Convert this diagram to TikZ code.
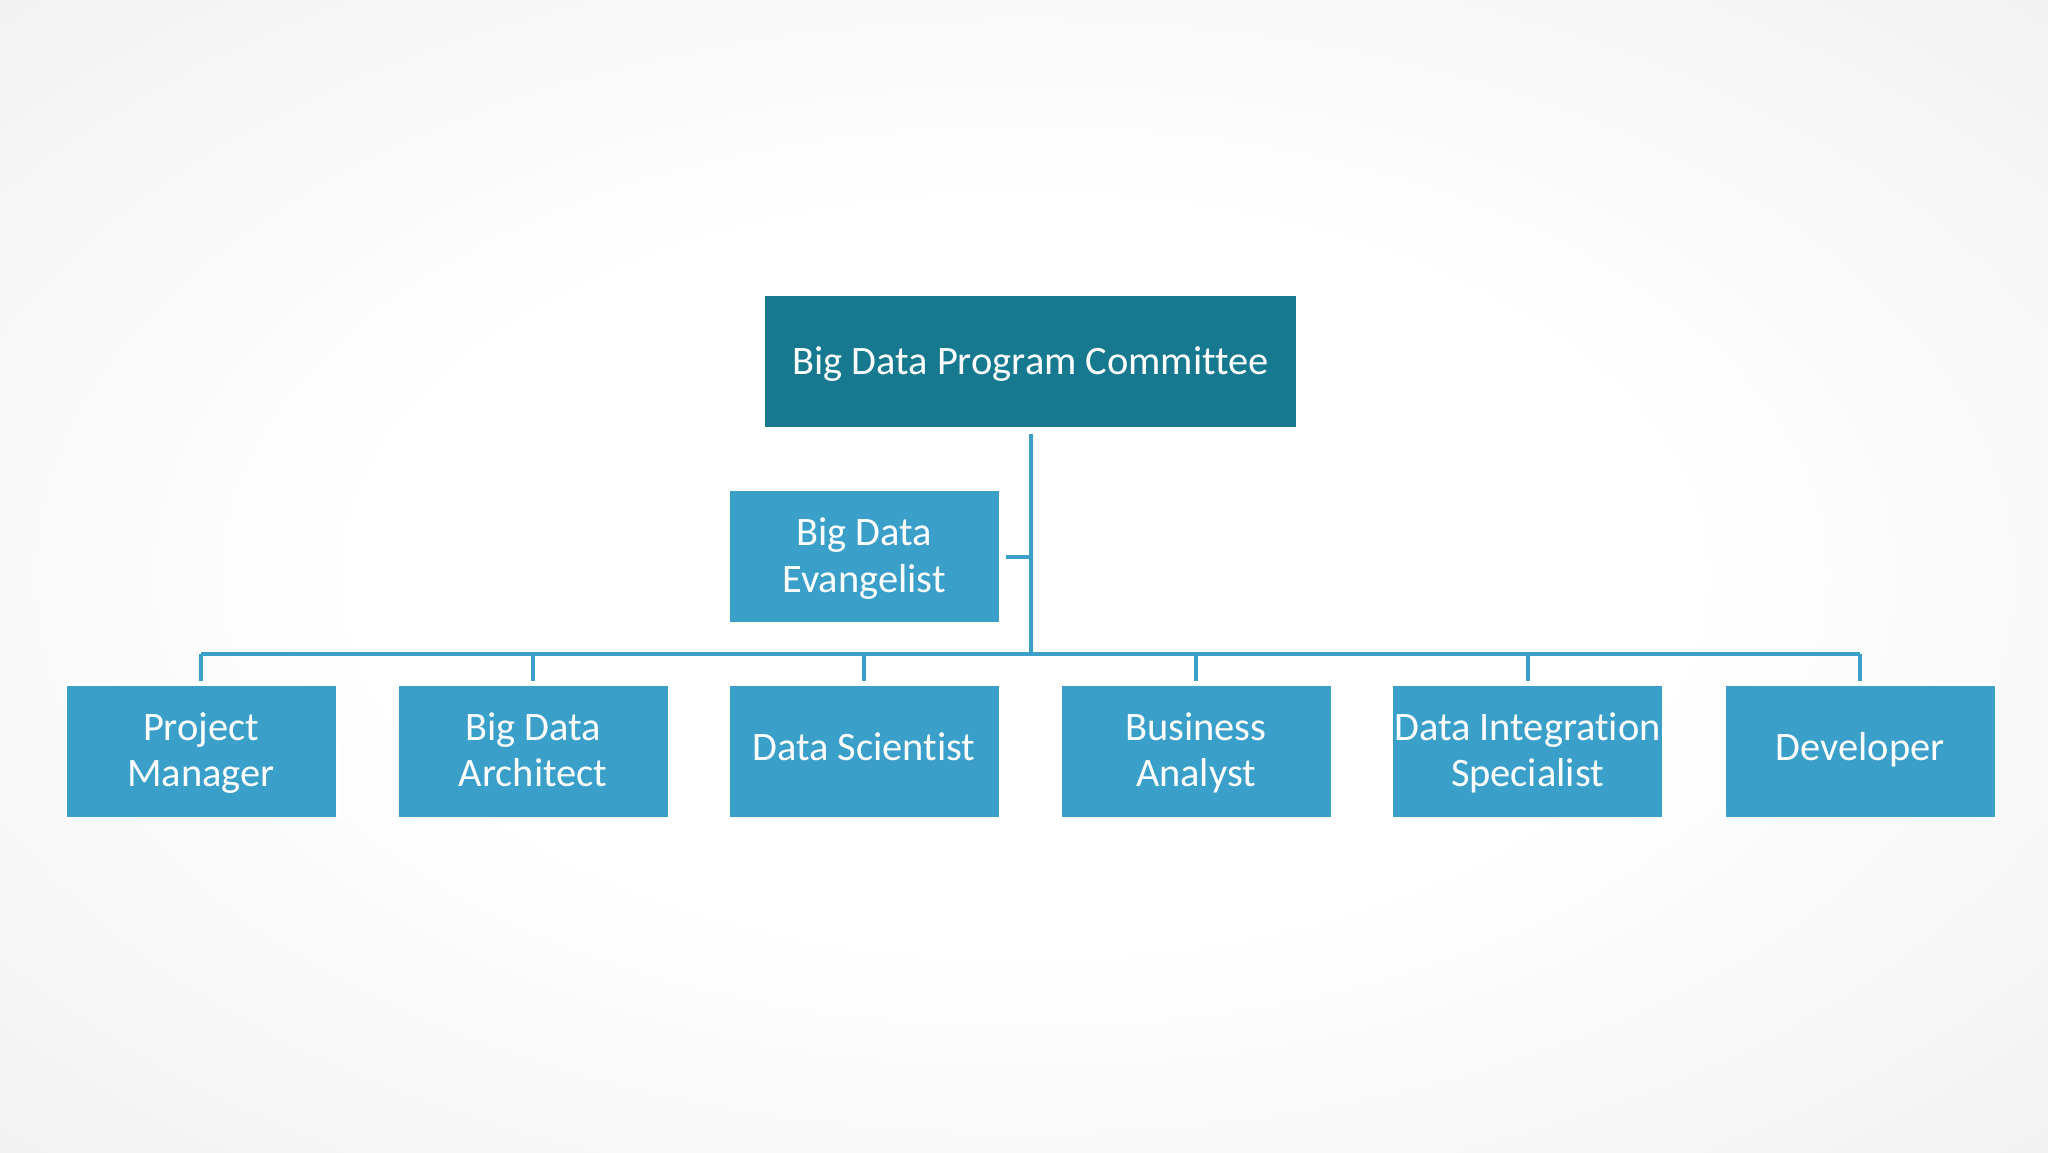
\documentclass[tikz,border=0pt]{standalone}
\usepackage{fontspec}
\setmainfont{Carlito}[Ligatures=NoCommon]
\pgfdeclareradialshading{bgshade}{\pgfpoint{0bp}{0bp}}{color(0bp)=(white); color(16bp)=(white); color(50bp)=(black!9); color(71bp)=(black!13)}
\newcommand\mystrut{\rule[-0.23\baselineskip]{0pt}{\baselineskip}}
\begin{document}
\begin{tikzpicture}[x=0.5pt,y=-0.5pt,
  txt/.style={text=white,font=\fontsize{20.2}{23.3}\selectfont,align=center,inner sep=0pt},
  dark/.style={txt,fill=topcol,draw=white,line width=1.2pt,minimum width=266.5pt,minimum height=66.5pt},
  role/.style={txt,fill=boxcol,draw=white,line width=1.5pt,minimum width=136pt,minimum height=67pt},
  conn/.style={draw=boxcol,line width=2pt}]
\definecolor{topcol}{HTML}{177990}
\definecolor{boxcol}{HTML}{3BA0C9}
\useasboundingbox (0,0) rectangle (2048,1152);
\shade[shading=bgshade] (0,0) rectangle (2048,1152);
\coordinate (bus) at (1030.5,654);
\draw[conn] (1030.5,434) -- (bus);
\draw[conn] (201,654) -- (1860,654);
\node[dark] (top) at (1030.5,361.5) {\mystrut Big Data Program Committee};
\node[role] (ev) at (864,556.5) {\mystrut Big Data\\\mystrut Evangelist};
\node[role] (c1) at (201,751) {\mystrut Project\\\mystrut Manager};
\node[role] (c2) at (533,751) {\mystrut Big Data\\\mystrut Architect};
\node[role] (c3) at (864,751) {\strut Data Scientist};
\node[role] (c4) at (1196,751) {\mystrut Business\\\mystrut Analyst};
\node[role] (c5) at (1527.5,751) {\mystrut Data Integration\\\mystrut Specialist};
\node[role] (c6) at (1860,751) {\strut Developer};
\foreach \c in {c1,c2,c3,c4,c5,c6}{\draw[conn] (\c.north |- bus) -- ([yshift=0.8pt]\c.north);}
\draw[conn] ([xshift=2pt]ev.east) -- (ev.east -| bus);
\end{tikzpicture}
\end{document}
